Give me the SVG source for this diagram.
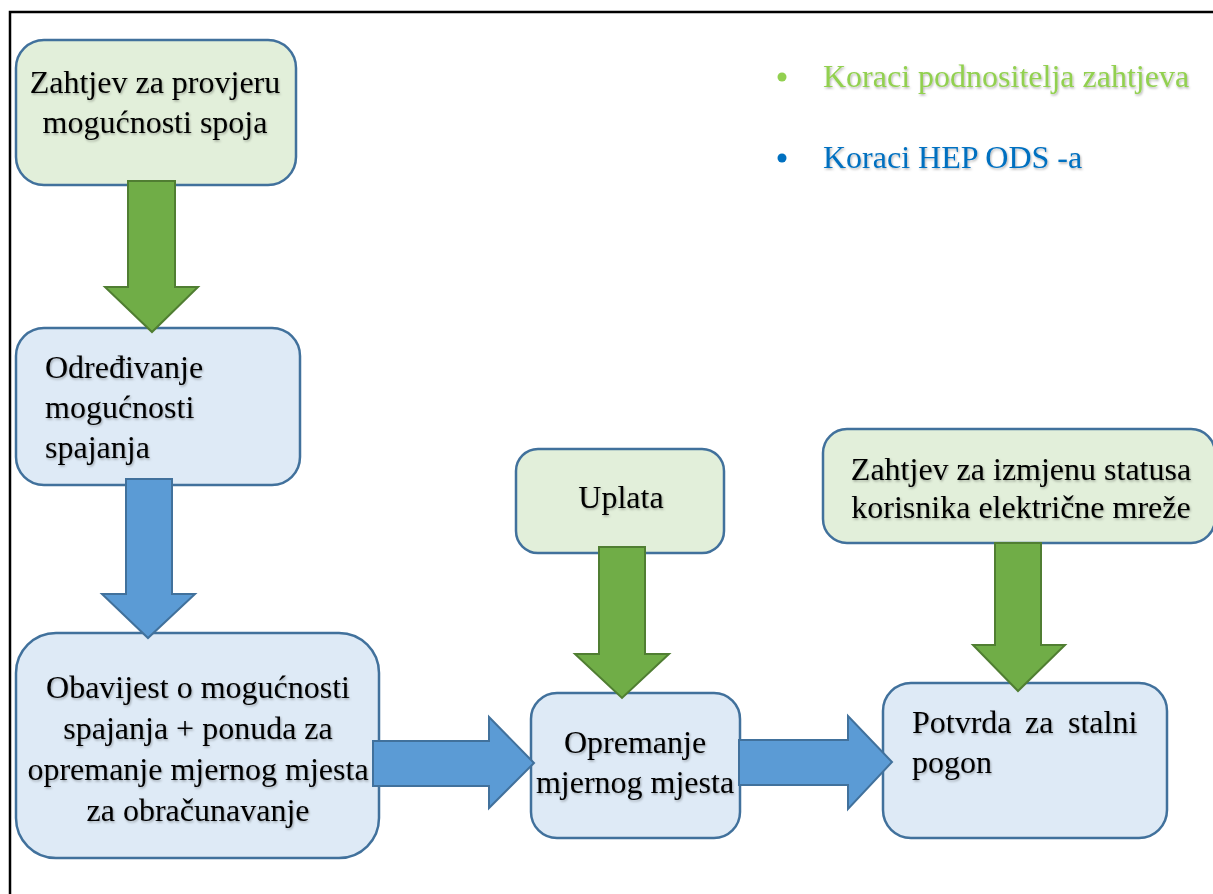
<svg xmlns="http://www.w3.org/2000/svg" width="1213" height="894" viewBox="0 0 1213 894">
<defs>
<filter id="ts" x="-5%" y="-20%" width="110%" height="150%">
<feDropShadow dx="1" dy="1.5" stdDeviation="1" flood-color="#000" flood-opacity="0.3"/>
</filter>
<style>
.t{font-family:"Liberation Serif","Times New Roman",serif;font-size:32px;fill:#000;filter:url(#ts)}
.c{text-anchor:middle}
.gb{fill:#E2EFDA;stroke:#41719C;stroke-width:2.5}
.bb{fill:#DEEAF6;stroke:#41719C;stroke-width:2.5}
.ga{fill:#70AD47;stroke:#507E32;stroke-width:2}
.ba{fill:#5B9BD5;stroke:#41719C;stroke-width:2}
.lg{font-family:"Liberation Serif","Times New Roman",serif;font-size:32px;filter:url(#ts)}
</style>
</defs>
<rect x="10" y="12" width="1230" height="900" fill="#fff" stroke="#000" stroke-width="2.5"/>

<g id="legend">
<circle cx="782" cy="77" r="4.5" fill="#92D050"/>
<text class="lg" x="823" y="87" fill="#92D050">Koraci podnositelja zahtjeva</text>
<circle cx="782" cy="158" r="4.5" fill="#0070C0"/>
<text class="lg" x="823" y="168" fill="#0070C0">Koraci HEP ODS -a</text>
</g>

<g id="n1">
<rect class="gb" x="16" y="40" width="280" height="145" rx="28"/>
<text class="t c" x="155" y="93">Zahtjev za provjeru</text>
<text class="t c" x="155" y="133">mogućnosti spoja</text>
</g>

<g id="n2">
<rect class="bb" x="16" y="328" width="284" height="157" rx="28"/>
<text class="t" x="45" y="378">Određivanje</text>
<text class="t" x="45" y="418">mogućnosti</text>
<text class="t" x="45" y="458">spajanja</text>
</g>

<g id="n3">
<rect class="bb" x="16" y="633" width="363" height="225" rx="40"/>
<text class="t c" x="198" y="698">Obavijest o mogućnosti</text>
<text class="t c" x="198" y="739">spajanja + ponuda za</text>
<text class="t c" x="198" y="780">opremanje mjernog mjesta</text>
<text class="t c" x="198" y="821">za obračunavanje</text>
</g>

<g id="n4">
<rect class="gb" x="516" y="449" width="208" height="104" rx="22"/>
<text class="t c" x="621" y="508">Uplata</text>
</g>

<g id="n5">
<rect class="bb" x="531" y="693" width="209" height="145" rx="26"/>
<text class="t c" x="635" y="753">Opremanje</text>
<text class="t c" x="635" y="793">mjernog mjesta</text>
</g>

<g id="n6">
<rect class="gb" x="823" y="429" width="392" height="114" rx="24"/>
<text class="t c" x="1021" y="480">Zahtjev za izmjenu statusa</text>
<text class="t c" x="1021" y="518">korisnika električne mreže</text>
</g>

<g id="n7">
<rect class="bb" x="883" y="683" width="284" height="155" rx="28"/>
<text class="t" y="733"><tspan x="912">Potvrda</tspan><tspan x="1025">za</tspan><tspan x="1068">stalni</tspan></text>
<text class="t" x="912" y="773">pogon</text>
</g>

<g id="connectors">
<polygon class="ga" points="128,181 175,181 175,287 198,287 152,332 105,287 128,287"/>
<polygon class="ba" points="126,479 172,479 172,594 195,594 148,638 102,594 126,594"/>
<polygon class="ba" points="373,741 489,741 489,717 534,763 489,808 489,786 373,786"/>
<polygon class="ga" points="599,547 645,547 645,654 669,654 622,698 575,654 599,654"/>
<polygon class="ba" points="739,740 848,740 848,716 892,762 848,809 848,785 739,785"/>
<polygon class="ga" points="995,543 1041,543 1041,645 1065,645 1018,691 973,645 995,645"/>
</g>
</svg>
